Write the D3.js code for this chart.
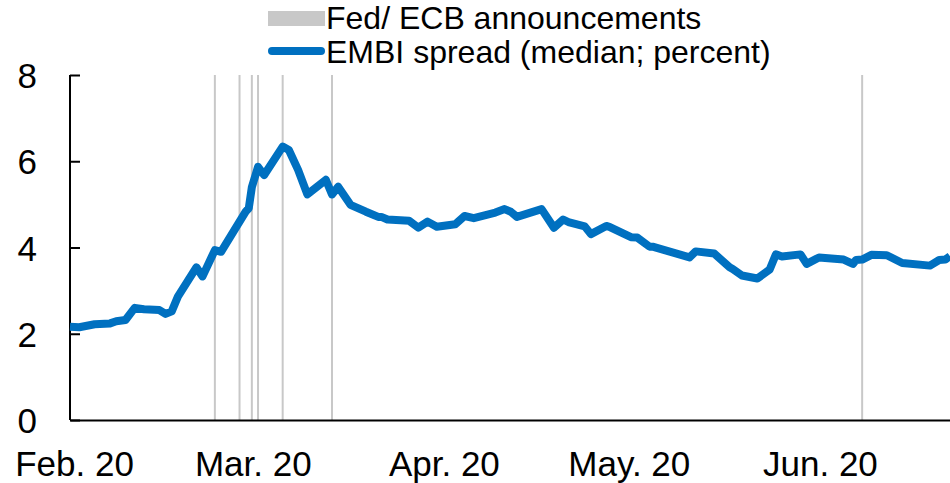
<!DOCTYPE html>
<html lang="en">
<head>
<meta charset="utf-8">
<title>EMBI spread and Fed/ECB announcements</title>
<script src="https://cdn.jsdelivr.net/npm/d3@7"></script>
<style>
  body { margin: 0; background: #fff; }
  svg text { font-family: "Liberation Sans", Arial, sans-serif; fill: #000; }
</style>
</head>
<body>
<div id="chart"></div>
<script>
// EMBI spread (median; percent) ("T12" = midday)
const spreadDates = [
  "2020-02-01", "2020-02-02T12", "2020-02-05", "2020-02-07T12", "2020-02-08T12",
  "2020-02-10", "2020-02-11T12", "2020-02-13", "2020-02-15T12", "2020-02-16T12",
  "2020-02-17T12", "2020-02-18T12", "2020-02-21T12", "2020-02-22T12", "2020-02-24T12",
  "2020-02-25T12", "2020-02-29T12", "2020-03-01", "2020-03-01T12", "2020-03-02T12",
  "2020-03-03T12", "2020-03-06T12", "2020-03-07T12", "2020-03-09", "2020-03-10T12",
  "2020-03-13T12", "2020-03-14T12", "2020-03-15T12", "2020-03-17T12", "2020-03-20",
  "2020-03-22", "2020-03-22T12", "2020-03-23T12", "2020-03-27", "2020-03-28T12",
  "2020-03-30", "2020-03-31T12", "2020-04-03T12", "2020-04-05", "2020-04-06T12",
  "2020-04-10", "2020-04-11T12", "2020-04-12T12", "2020-04-13T12", "2020-04-17T12",
  "2020-04-19T12", "2020-04-21", "2020-04-22", "2020-04-24T12", "2020-04-25T12",
  "2020-04-28", "2020-04-28T12", "2020-05-02", "2020-05-03", "2020-05-05",
  "2020-05-05T12", "2020-05-11T12", "2020-05-12T12", "2020-05-15T12", "2020-05-18",
  "2020-05-18T12", "2020-05-20", "2020-05-22T12", "2020-05-24T12", "2020-05-25T12",
  "2020-05-26T12", "2020-05-29T12", "2020-05-30T12", "2020-06-01T12", "2020-06-05T12",
  "2020-06-07", "2020-06-07T12", "2020-06-08T12", "2020-06-10", "2020-06-12T12",
  "2020-06-15", "2020-06-19T12", "2020-06-21", "2020-06-22", "2020-06-22T18"
];
const spreadValues = [
  2.16, 2.15, 2.22, 2.24, 2.29,
  2.32, 2.60, 2.57, 2.55, 2.46,
  2.52, 2.86, 3.54, 3.33, 3.94,
  3.90, 4.83, 4.91, 5.40, 5.87,
  5.68, 6.34, 6.26, 5.80, 5.23,
  5.57, 5.23, 5.41, 4.99, 4.83,
  4.71, 4.71, 4.65, 4.62, 4.46,
  4.60, 4.48, 4.54, 4.73, 4.68,
  4.81, 4.89, 4.83, 4.71, 4.89,
  4.46, 4.65, 4.58, 4.49, 4.31,
  4.50, 4.48, 4.24, 4.23, 4.02,
  4.02, 3.77, 3.91, 3.86, 3.54,
  3.50, 3.35, 3.28, 3.49, 3.84,
  3.79, 3.84, 3.62, 3.77, 3.72,
  3.62, 3.71, 3.72, 3.83, 3.82,
  3.64, 3.58, 3.71, 3.72, 3.80
];

// Fed / ECB announcement markers
const announcementDates = [
  "2020-02-24T12", "2020-02-28T12", "2020-03-01T12", "2020-03-02T12",
  "2020-03-06T12", "2020-03-14T12", "2020-06-08T12"
];

// axis labels
const monthTicks = ["2020-02-01", "2020-03-01", "2020-04-01", "2020-05-01", "2020-06-01"];
const monthLabels = ["Feb. 20", "Mar. 20", "Apr. 20", "May. 20", "Jun. 20"];
const yTicks = [0, 2, 4, 6, 8];

const legendLabels = ["Fed/ ECB announcements", "EMBI spread (median; percent)"];

const W = 950, H = 483;
const margin = {top: 75, right: 0, bottom: 63, left: 70};
const blue = "#0070c0", grey = "#c8c8c8";

const parseDate = s => d3.utcParse(s.length > 10 ? "%Y-%m-%dT%H" : "%Y-%m-%d")(s);

const data = spreadDates.map((d, i) => ({date: parseDate(d), value: spreadValues[i]}));

const svg = d3.select("#chart").append("svg")
  .attr("width", W)
  .attr("height", H);

const x = d3.scaleUtc()
  .domain([parseDate("2020-02-01"), parseDate("2020-06-22T18")])
  .range([margin.left, W - margin.right]);

const y = d3.scaleLinear()
  .domain([0, 8])
  .range([H - margin.bottom, margin.top]);

// announcement lines
svg.append("g")
  .selectAll("line")
  .data(announcementDates.map(parseDate))
  .join("line")
    .attr("x1", d => x(d))
    .attr("x2", d => x(d))
    .attr("y1", y(8))
    .attr("y2", y(0))
    .attr("stroke", grey)
    .attr("stroke-width", 2);

// y axis, ticks point inward
const yAxis = svg.append("g")
  .attr("transform", `translate(${margin.left},0)`)
  .call(d3.axisRight(y).tickValues(yTicks).tickSize(10).tickFormat(d3.format("d")));
yAxis.select(".domain").attr("stroke", "#000").attr("stroke-width", 2).attr("d", `M0,${y(8)}V${y(0)}`);
yAxis.selectAll(".tick line").attr("stroke", "#000").attr("stroke-width", 2);
yAxis.selectAll(".tick text")
  .attr("x", -33)
  .attr("dy", "0.36em")
  .attr("text-anchor", "end")
  .style("font-size", "35px");

// x axis, labels only
const xAxis = svg.append("g")
  .attr("transform", `translate(0,${y(0)})`)
  .call(d3.axisBottom(x)
    .tickValues(monthTicks.map(parseDate))
    .tickSize(0)
    .tickFormat((d, i) => monthLabels[i]));
xAxis.select(".domain").attr("stroke", "#000").attr("stroke-width", 2);
xAxis.selectAll(".tick text")
  .attr("y", 56)
  .attr("dy", 0)
  .attr("dx", 4)
  .style("font-size", "35px");
xAxis.attr("font-family", null).attr("font-size", null);
yAxis.attr("font-family", null).attr("font-size", null);

// EMBI spread line
svg.append("path")
  .datum(data)
  .attr("fill", "none")
  .attr("stroke", blue)
  .attr("stroke-width", 8)
  .attr("stroke-linejoin", "round")
  .attr("stroke-linecap", "butt")
  .attr("d", d3.line().x(d => x(d.date)).y(d => y(d.value)));

// legend
const legend = svg.append("g").attr("transform", "translate(268,0)");
legend.append("rect")
  .attr("x", 0).attr("y", 11)
  .attr("width", 57).attr("height", 15)
  .attr("fill", grey);
legend.append("line")
  .attr("x1", 4).attr("x2", 53)
  .attr("y1", 51).attr("y2", 51)
  .attr("stroke", blue)
  .attr("stroke-width", 8)
  .attr("stroke-linecap", "round");
legend.selectAll("text")
  .data(legendLabels)
  .join("text")
    .attr("x", 58)
    .attr("y", (d, i) => 29 + i * 34)
    .style("font-size", "32px")
    .text(d => d);
</script>
</body>
</html>
